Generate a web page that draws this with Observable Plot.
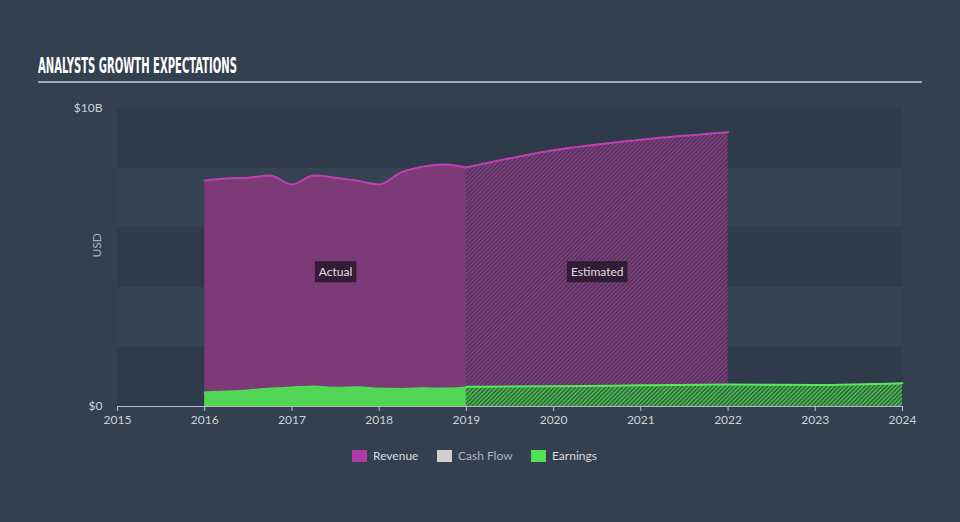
<!DOCTYPE html>
<html>
<head>
<meta charset="utf-8">
<script src="https://cdn.jsdelivr.net/npm/d3@7"></script>
<script src="https://cdn.jsdelivr.net/npm/@observablehq/plot@0.6"></script>
<style>
  html, body { margin: 0; padding: 0; background: #334050; }
  #wrap { position: relative; width: 960px; height: 522px; overflow: hidden; background: #334050; font-family: Lato, "Open Sans", sans-serif; }
  #title { position: absolute; left: 38px; top: 55px; color: #ffffff; font-family: "Liberation Sans Narrow", "DejaVu Sans Condensed", sans-serif; font-weight: bold; font-size: 22px; line-height: 22px; white-space: nowrap; transform-origin: left top; letter-spacing: 0; }
  #rule { position: absolute; left: 38px; top: 81px; width: 884px; height: 2px; background: #a3abb5; }
  #chart { position: absolute; left: 0; top: 90px; }
  #legend { position: absolute; left: 0; top: 440px; width: 960px; height: 30px; }
  .sw { position: absolute; top: 10px; width: 15px; height: 12px; }
  .lt { position: absolute; top: 8px; font-size: 12px; line-height: 16px; color: #d7dade; white-space: nowrap; }
</style>
</head>
<body>
<div id="wrap">
  <div id="title">ANALYSTS GROWTH EXPECTATIONS</div>
  <div id="rule"></div>
  <div id="chart"></div>
  <div id="legend"></div>
</div>
<script>
// ---- data (values in billions USD) ----
const xTicks = [2015, 2016, 2017, 2018, 2019, 2020, 2021, 2022, 2023, 2024];
const yTicks = [0, 10];
const yBandStarts = [0, 2, 4, 6, 8];

const actualYears = [2016, 2016.25, 2016.5, 2016.75, 2017, 2017.25, 2017.5, 2017.75, 2018, 2018.25, 2018.5, 2018.75, 2019];
const revenueActual = [7.58, 7.65, 7.68, 7.75, 7.45, 7.75, 7.68, 7.58, 7.45, 7.85, 8.05, 8.12, 8.02];
const earningsActual = [0.47, 0.50, 0.54, 0.60, 0.64, 0.67, 0.63, 0.65, 0.60, 0.59, 0.61, 0.60, 0.64];

const revenueEstYears = [2019, 2020, 2021, 2022];
const revenueEst = [8.02, 8.6, 8.95, 9.2];

const earningsEstYears = [2019, 2020, 2021, 2022, 2023, 2024];
const earningsEst = [0.66, 0.68, 0.71, 0.74, 0.72, 0.78];

const phaseLabels = ["Actual", "Estimated"];
const seriesNames = ["Revenue", "Cash Flow", "Earnings"];

// ---- tables ----
const revA = actualYears.map((x, i) => ({x, y: revenueActual[i]}));
const earA = actualYears.map((x, i) => ({x, y: earningsActual[i]}));
const revE = revenueEstYears.map((x, i) => ({x, y: revenueEst[i]}));
const earE = earningsEstYears.map((x, i) => ({x, y: earningsEst[i]}));
const bands = yBandStarts.map((y, i) => ({x1: xTicks[0], x2: xTicks[xTicks.length - 1], y1: y, y2: y + 2, dark: i % 2 === 0}));
const labels = [
  {t: phaseLabels[0], x: (actualYears[0] + actualYears[actualYears.length - 1]) / 2, y: 4.5},
  {t: phaseLabels[1], x: (revenueEstYears[0] + revenueEstYears[revenueEstYears.length - 1]) / 2, y: 4.5}
];

const C = {
  revFill: "#7c3b76", revLine: "#c13eb4",
  earFill: "#51d655", earLine: "#5ae65e",
  text: "#cdd2d8", axis: "#b6bcc4"
};

const chart = Plot.plot({
  width: 960, height: 350,
  marginLeft: 117, marginRight: 58, marginTop: 18, marginBottom: 34,
  style: {background: "transparent", color: C.text, fontSize: "12px", fontFamily: "Lato, 'Open Sans', sans-serif", overflow: "visible"},
  x: {domain: [xTicks[0], xTicks[xTicks.length - 1]]},
  y: {domain: [yTicks[0], yTicks[1]]},
  marks: [
    Plot.rect(bands, {x1: "x1", x2: "x2", y1: "y1", y2: "y2", fill: d => d.dark ? "#2f3b4b" : "#354353"}),
    Plot.areaY(revA, {x: "x", y: "y", fill: C.revFill, curve: "monotone-x"}),
    Plot.areaY(revE, {x: "x", y: "y", fill: "url(#hatchRev)", curve: "monotone-x"}),
    Plot.lineY(revA, {x: "x", y: "y", stroke: C.revLine, strokeWidth: 2, curve: "monotone-x"}),
    Plot.lineY(revE, {x: "x", y: "y", stroke: C.revLine, strokeWidth: 2, curve: "monotone-x"}),
    Plot.areaY(earA, {x: "x", y: "y", fill: C.earFill, curve: "monotone-x"}),
    Plot.areaY(earE, {x: "x", y: "y", fill: "url(#hatchEar)", curve: "monotone-x"}),
    Plot.lineY(earA, {x: "x", y: "y", stroke: C.earFill, strokeWidth: 2, curve: "monotone-x"}),
    Plot.lineY(earE, {x: "x", y: "y", stroke: C.earLine, strokeWidth: 2, curve: "monotone-x"}),
    Plot.ruleY([0], {stroke: C.axis, strokeWidth: 1}),
    Plot.axisX({ticks: xTicks, tickFormat: "d", tickSize: 5, tickPadding: 4, stroke: C.axis, fill: C.text, label: null}),
    Plot.axisY({ticks: yTicks, tickFormat: d => d === 0 ? "$0" : `$${d}B`, tickSize: 0, tickPadding: 15, fill: C.text, label: null}),
    Plot.text(["USD"], {frameAnchor: "left", dx: -20, rotate: -90, fill: "#a9b0b9", fontSize: 12}),
    Plot.text(labels, {x: "x", y: "y", text: "t", fill: "#e4dce4", fontSize: 12})
  ]
});

document.getElementById("chart").appendChild(chart);

// hatch patterns
const svg = d3.select(chart);
const defs = svg.insert("defs", ":first-child");
function hatch(id, bg, fg) {
  const p = defs.append("pattern").attr("id", id).attr("patternUnits", "userSpaceOnUse")
    .attr("width", 3).attr("height", 3).attr("patternTransform", "rotate(45)");
  p.append("rect").attr("width", 3).attr("height", 3).attr("fill", bg);
  p.append("rect").attr("width", 1.5).attr("height", 3).attr("fill", fg);
}
hatch("hatchRev", "#453552", "#8e3c89");
hatch("hatchEar", "#2f5a3d", "#4cc550");

// boxes behind phase labels
svg.selectAll("text").filter(function () { return phaseLabels.includes(this.textContent); }).each(function () {
  const b = this.getBBox();
  const tr = this.getAttribute("transform");
  const r = document.createElementNS("http://www.w3.org/2000/svg", "rect");
  r.setAttribute("x", b.x - 4);
  r.setAttribute("y", b.y - 3);
  r.setAttribute("width", b.width + 8);
  r.setAttribute("height", b.height + 6);
  r.setAttribute("fill", "#2b1a2f");
  r.setAttribute("fill-opacity", "0.9");
  if (tr) r.setAttribute("transform", tr);
  this.parentNode.insertBefore(r, this);
});

// legend
const legendColors = ["#b03aa5", "#d0d0d0", "#52e055"];
const legendX = [352, 437, 531];
const legendTextColors = ["#d7dade", "#aeb3ba", "#d7dade"];
const lg = d3.select("#legend");
seriesNames.forEach((n, i) => {
  lg.append("div").attr("class", "sw").style("left", legendX[i] + "px").style("background", legendColors[i]);
  lg.append("div").attr("class", "lt").style("left", (legendX[i] + 21) + "px").style("color", legendTextColors[i]).text(n);
});

// fit title width
const t = document.getElementById("title");
const w = t.getBoundingClientRect().width;
t.style.transform = `scaleX(${199 / w})`;
</script>
</body>
</html>
